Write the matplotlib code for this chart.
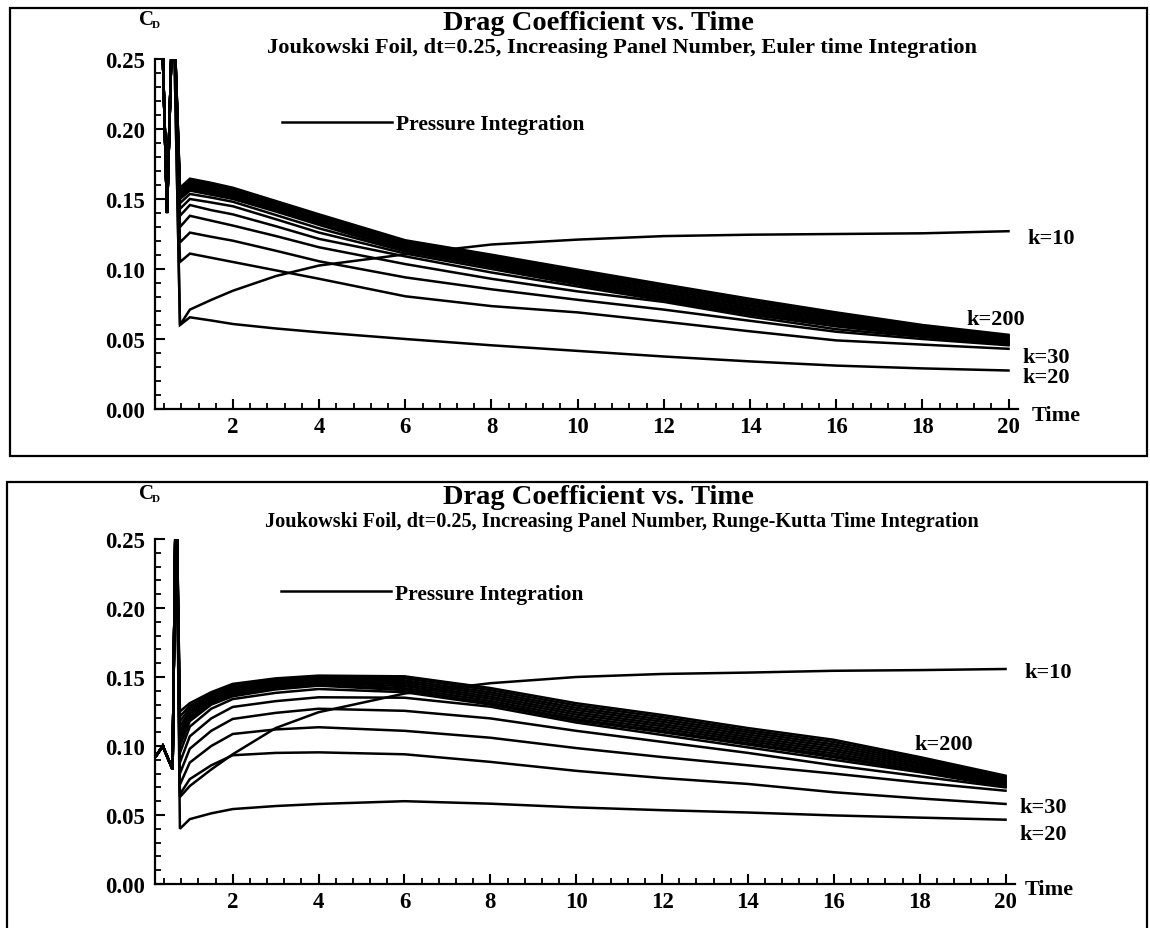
import matplotlib
matplotlib.use("Agg")
import matplotlib.pyplot as plt
from matplotlib.lines import Line2D
from matplotlib.patches import Rectangle
from matplotlib.ticker import MultipleLocator

plt.rcParams["font.family"] = ["Liberation Serif", "DejaVu Serif"]
plt.rcParams["font.weight"] = "bold"

# ---------------------------------------------------------------- data
TIME = [0.77, 1.0, 1.5, 2, 3, 4, 6, 8, 10, 12, 14, 16, 18, 20]
X_TICKS = [2, 4, 6, 8, 10, 12, 14, 16, 18, 20]
Y_TICKS = [0.00, 0.05, 0.10, 0.15, 0.20, 0.25]
Y_TICK_LABELS = ["0.00", "0.05", "0.10", "0.15", "0.20", "0.25"]

# Euler time integration
EULER_SPIKE_T = [0.33, 0.47, 0.61]
EULER_SPIKE_CD = [0.30, 0.14, 0.30]
EULER_K10 = [0.060, 0.071, 0.078, 0.0845, 0.095, 0.1025, 0.1105, 0.1175, 0.1210, 0.1235, 0.1245, 0.1250, 0.1255, 0.1270]
EULER_K20 = [0.060, 0.0655, 0.0632, 0.0607, 0.0575, 0.0548, 0.0500, 0.0455, 0.0415, 0.0375, 0.0340, 0.0310, 0.0290, 0.0275]
EULER_K30 = [0.105, 0.111, 0.108, 0.105, 0.0990, 0.0930, 0.0805, 0.0735, 0.0690, 0.0624, 0.0555, 0.0490, 0.0460, 0.0430]
EULER_K40 = [0.119, 0.126, 0.123, 0.1202, 0.1130, 0.1055, 0.0940, 0.0855, 0.0780, 0.0710, 0.0630, 0.0552, 0.0500, 0.0455]
EULER_K50 = [0.130, 0.138, 0.1345, 0.131, 0.1235, 0.1155, 0.1035, 0.0930, 0.0840, 0.0765, 0.0660, 0.0570, 0.0515, 0.0462]
EULER_K60 = [0.138, 0.1457, 0.142, 0.139, 0.1305, 0.1215, 0.1090, 0.0975, 0.0875, 0.0775, 0.0675, 0.0590, 0.0525, 0.0466]
EULER_K70 = [0.143, 0.150, 0.1475, 0.1448, 0.1355, 0.1260, 0.1110, 0.1000, 0.0890, 0.0785, 0.0680, 0.0595, 0.0530, 0.0468]
EULER_K80 = [0.147, 0.1536, 0.151, 0.148, 0.1385, 0.1290, 0.1125, 0.1015, 0.0900, 0.0790, 0.0688, 0.0598, 0.0532, 0.0469]
EULER_HIGH_K = [
    [0.1500, 0.1560, 0.1530, 0.1500, 0.1410, 0.1315, 0.1130, 0.1021, 0.0904, 0.0796, 0.0692, 0.0600, 0.0535, 0.0470],
    [0.1511, 0.1572, 0.1542, 0.1511, 0.1421, 0.1326, 0.1141, 0.1033, 0.0917, 0.0809, 0.0706, 0.0613, 0.0544, 0.0479],
    [0.1523, 0.1584, 0.1554, 0.1523, 0.1431, 0.1336, 0.1151, 0.1044, 0.0930, 0.0823, 0.0719, 0.0626, 0.0554, 0.0487],
    [0.1534, 0.1596, 0.1566, 0.1534, 0.1442, 0.1347, 0.1162, 0.1056, 0.0943, 0.0836, 0.0733, 0.0639, 0.0563, 0.0496],
    [0.1546, 0.1609, 0.1579, 0.1546, 0.1453, 0.1358, 0.1173, 0.1067, 0.0956, 0.0850, 0.0746, 0.0651, 0.0572, 0.0504],
    [0.1557, 0.1621, 0.1591, 0.1557, 0.1464, 0.1369, 0.1184, 0.1079, 0.0969, 0.0863, 0.0760, 0.0664, 0.0581, 0.0513],
    [0.1569, 0.1633, 0.1603, 0.1569, 0.1474, 0.1379, 0.1194, 0.1090, 0.0982, 0.0877, 0.0773, 0.0677, 0.0591, 0.0521],
    [0.1580, 0.1645, 0.1615, 0.1580, 0.1485, 0.1390, 0.1205, 0.1102, 0.0995, 0.0890, 0.0787, 0.0690, 0.0600, 0.0530],
]

# Runge-Kutta time integration
RK_SPIKE_T = [0.22, 0.37, 0.60, 0.68]
RK_SPIKE_CD = [0.093, 0.100, 0.083, 0.30]
RK_K10 = [0.063, 0.071, 0.083, 0.094, 0.113, 0.1245, 0.138, 0.1455, 0.1500, 0.1522, 0.1532, 0.1545, 0.1550, 0.1558]
RK_K20 = [0.040, 0.047, 0.0512, 0.0543, 0.0565, 0.0580, 0.0600, 0.0582, 0.0555, 0.0535, 0.0518, 0.0497, 0.0481, 0.0466]
RK_K30 = [0.065, 0.076, 0.086, 0.0933, 0.0950, 0.0954, 0.0940, 0.0885, 0.0820, 0.0768, 0.0725, 0.0665, 0.0620, 0.0580]
RK_K40 = [0.072, 0.088, 0.100, 0.1087, 0.1120, 0.1136, 0.1110, 0.1060, 0.0985, 0.0920, 0.0860, 0.0800, 0.0735, 0.0676]
RK_K50 = [0.080, 0.098, 0.111, 0.1196, 0.1240, 0.1270, 0.1255, 0.1200, 0.1110, 0.1030, 0.0950, 0.0860, 0.0780, 0.0700]
RK_K60 = [0.088, 0.107, 0.120, 0.1283, 0.1325, 0.1353, 0.1350, 0.1285, 0.1170, 0.1080, 0.0990, 0.0900, 0.0810, 0.0705]
RK_K70 = [0.095, 0.114, 0.127, 0.1340, 0.1385, 0.1413, 0.1390, 0.1300, 0.1185, 0.1100, 0.1010, 0.0918, 0.0820, 0.0715]
RK_HIGH_K = [
    [0.1000, 0.1180, 0.1300, 0.1360, 0.1410, 0.1437, 0.1405, 0.1312, 0.1195, 0.1110, 0.1020, 0.0930, 0.0825, 0.0722],
    [0.1036, 0.1199, 0.1313, 0.1373, 0.1421, 0.1447, 0.1419, 0.1327, 0.1211, 0.1126, 0.1036, 0.0946, 0.0839, 0.0731],
    [0.1071, 0.1217, 0.1326, 0.1386, 0.1433, 0.1458, 0.1434, 0.1343, 0.1228, 0.1143, 0.1051, 0.0963, 0.0852, 0.0740],
    [0.1107, 0.1236, 0.1339, 0.1399, 0.1444, 0.1468, 0.1448, 0.1358, 0.1244, 0.1159, 0.1067, 0.0979, 0.0866, 0.0749],
    [0.1143, 0.1254, 0.1351, 0.1411, 0.1456, 0.1479, 0.1462, 0.1374, 0.1261, 0.1176, 0.1083, 0.0996, 0.0879, 0.0758],
    [0.1179, 0.1273, 0.1364, 0.1424, 0.1467, 0.1489, 0.1476, 0.1389, 0.1277, 0.1192, 0.1099, 0.1012, 0.0893, 0.0767],
    [0.1214, 0.1291, 0.1377, 0.1437, 0.1479, 0.1499, 0.1491, 0.1405, 0.1294, 0.1209, 0.1114, 0.1029, 0.0906, 0.0776],
    [0.1250, 0.1310, 0.1390, 0.1450, 0.1490, 0.1510, 0.1505, 0.1420, 0.1310, 0.1225, 0.1130, 0.1045, 0.0920, 0.0785],
]

TITLE = "Drag Coefficient vs. Time"
SUBTITLE_EULER = "Joukowski Foil, dt=0.25, Increasing Panel Number, Euler time Integration"
SUBTITLE_RK = "Joukowski Foil, dt=0.25, Increasing Panel Number, Runge-Kutta Time Integration"
LEGEND_LABEL = "Pressure Integration"

# ---------------------------------------------------------------- layout
W, H = 1150, 929
fig = plt.figure(figsize=(W / 100, H / 100), dpi=100)


def fx(px):
    return px / W


def fy(py):
    return 1 - py / H


def frame_box(x0, y0, x1, y1):
    fig.patches.append(Rectangle((fx(x0), fy(y1)), fx(x1) - fx(x0), fy(y0) - fy(y1),
                                 transform=fig.transFigure, fill=False,
                                 lw=1.6, ec="black", clip_on=False))


def draw_panel(rect, spike_t, spike_cd, k_curves, high_k, subtitle, sub_size,
               labels, py_off):
    ax = fig.add_axes(rect)
    for vals in k_curves + high_k:
        ax.plot(spike_t + TIME, spike_cd + vals, color="black", lw=1.8,
                solid_joinstyle="miter")
    ax.set_xlim(0.19, 20.22)
    ax.set_ylim(0.0, 0.25)
    ax.set_xticks(X_TICKS)
    ax.set_xticklabels([str(v) for v in X_TICKS])
    ax.xaxis.set_minor_locator(MultipleLocator(0.4))
    ax.set_yticks(Y_TICKS)
    ax.set_yticklabels(Y_TICK_LABELS)
    ax.yaxis.set_minor_locator(MultipleLocator(0.01))
    ax.tick_params(which="major", direction="in", length=7, width=1.5,
                   labelsize=16.5, pad=7)
    ax.tick_params(axis="x", which="major", pad=5)
    ax.tick_params(which="minor", direction="in", length=4, width=1.3)
    for side in ("top", "right"):
        ax.spines[side].set_visible(False)
    for side in ("left", "bottom"):
        ax.spines[side].set_linewidth(1.6)
    ax.set_facecolor("none")

    handle = Line2D([], [], color="black", lw=1.8)
    ax.legend([handle], [LEGEND_LABEL], loc="center left",
              bbox_to_anchor=(0.147, labels["legend_y"]),
              frameon=False, handlelength=5.1, handletextpad=0.18,
              borderaxespad=0, borderpad=0,
              prop={"family": "Liberation Serif", "weight": "bold", "size": 15.5})

    for text, (tx, ty) in labels["curves"].items():
        ax.text(tx, ty, text, ha="left", va="center", fontsize=16,
                fontweight="bold", clip_on=False)
    ax.text(labels["time"][0], labels["time"][1], "Time", ha="left", va="center",
            fontsize=16, fontweight="bold", clip_on=False)

    fig.text(fx(598), fy(24 + py_off), TITLE, ha="center", va="center",
             fontsize=20.5, fontweight="bold")
    fig.text(fx(622), fy(48 + py_off), subtitle, ha="center", va="center",
             fontsize=sub_size, fontweight="bold")
    fig.text(fx(146), fy(20 + py_off), "C", ha="center", va="center",
             fontsize=15, fontweight="bold")
    fig.text(fx(156), fy(26 + py_off), "D", ha="center", va="center",
             fontsize=8, fontweight="bold")
    return ax


frame_box(10, 9, 1147, 457)
frame_box(7, 483, 1147, 940)

draw_panel([fx(155), fy(410), (1018 - 155) / W, 350 / H],
           EULER_SPIKE_T, EULER_SPIKE_CD,
           [EULER_K10, EULER_K20, EULER_K30, EULER_K40, EULER_K50,
            EULER_K60, EULER_K70, EULER_K80],
           EULER_HIGH_K, SUBTITLE_EULER, 16.1,
           {"legend_y": 0.814,
            "curves": {"k=10": (20.45, 0.1221), "k=200": (19.03, 0.0643),
                       "k=30": (20.32, 0.0371), "k=20": (20.32, 0.0229)},
            "time": (20.53, -0.0043)},
           0)

draw_panel([fx(155), fy(885), (1015 - 155) / W, 345 / H],
           RK_SPIKE_T, RK_SPIKE_CD,
           [RK_K10, RK_K20, RK_K30, RK_K40, RK_K50, RK_K60, RK_K70],
           RK_HIGH_K, SUBTITLE_RK, 14.6,
           {"legend_y": 0.841,
            "curves": {"k=10": (20.43, 0.1536), "k=200": (17.88, 0.1014),
                       "k=30": (20.32, 0.0558), "k=20": (20.32, 0.0362)},
            "time": (20.45, -0.0036)},
           474)

fig.savefig("out.png", dpi=100, facecolor="white")
